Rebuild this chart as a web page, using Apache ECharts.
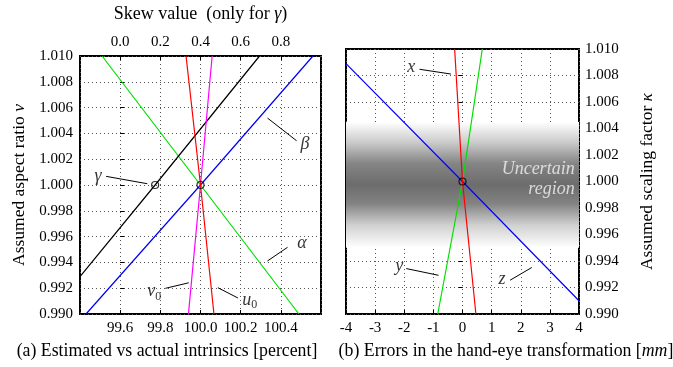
<!DOCTYPE html>
<html>
<head>
<meta charset="utf-8">
<script src="https://cdn.jsdelivr.net/npm/echarts@6/dist/echarts.min.js"></script>
<style>
  html, body { margin: 0; padding: 0; background: #fff; }
  #chart { width: 673px; height: 367px; }
</style>
</head>
<body>
<div id="chart"></div>
<script>
// (a) intrinsics sweep, x = estimated/actual [percent], y = aspect ratio
const alphaPts = [[99.51, 1.010], [100.0, 1.000], [100.49, 0.990]]
const betaPts = [[99.43, 0.990], [100.0, 1.000], [100.56, 1.010]]
const u0Pts = [[99.928, 1.010], [100.0, 1.000], [100.067, 0.990]]
const v0Pts = [[99.94, 0.990], [100.0, 1.000], [100.058, 1.010]]
// gamma is plotted against the top (skew) axis
const gammaPts = [[-0.2, 0.9929], [0.174, 1.000], [0.694, 1.010]]
const centerA = [[100.0, 1.000]]
const centerGamma = [[0.174, 1.000]]

// (b) hand-eye errors [mm], y = scaling factor
const xPts = [[-0.27, 1.010], [0.0, 1.000], [0.46, 0.990]]
const yPts = [[0.68, 1.010], [0.0, 1.000], [-0.85, 0.990]]
const zPts = [[-4, 1.0089], [0.0, 1.000], [4, 0.9910]]
const centerB = [[0.0, 1.000]]
const uncertainBand = [1.0045, 0.995]

// label anchors and leader lines (data coordinates)
const labelsA = [
  { text: '{i|γ}', at: [99.49, 1.00071], lead: [[99.53, 1.00067], [99.735, 1.0001]] },
  { text: '{i|β}', at: [100.52, 1.00312], lead: [[100.3335, 1.00519], [100.4785, 1.00343]] },
  { text: '{i|α}', at: [100.505, 0.99549], lead: [[100.3335, 0.99411], [100.4335, 0.99517]] },
  { text: '{i|v}{s|0}', at: [99.77, 0.99175], lead: [[99.825, 0.99199], [99.9415, 0.99242]] },
  { text: '{i|u}{s|0}', at: [100.245, 0.99110], lead: [[100.0865, 0.99204], [100.1865, 0.99124]] }
]
const labelsB = [
  { text: '{i|x}', at: [-1.761, 1.00864], lead: [[-1.476, 1.00847], [-0.399, 1.00811]] },
  { text: '{i|y}', at: [-2.172, 0.99360], lead: [[-1.932, 0.99343], [-0.824, 0.99292]] },
  { text: '{i|z}', at: [1.36, 0.99262], lead: [[1.634, 0.99255], [2.379, 0.99351]] }
]

const FONT = '"Liberation Serif", "Times New Roman", serif'
const richStyle = {
  i: { fontFamily: FONT, fontStyle: 'italic', fontSize: 18, color: '#000' },
  s: { fontFamily: FONT, fontSize: 12, color: '#000', padding: [10, 0, 0, 0] }
}

function lineSeries (data, color, xi, yi) {
  return {
    type: 'line', data: data, xAxisIndex: xi, yAxisIndex: yi,
    showSymbol: false, silent: true, animation: false,
    lineStyle: { color: color, width: 1.2 }
  }
}
function circleSeries (data, xi, yi) {
  return {
    type: 'scatter', data: data, xAxisIndex: xi, yAxisIndex: yi,
    symbol: 'circle', symbolSize: 7, silent: true, z: 5,
    itemStyle: { color: 'rgba(0,0,0,0)', borderColor: '#000', borderWidth: 1.2 }
  }
}
function labelSeries (labels, xi, yi) {
  let out = []
  labels.forEach(l => {
    out.push(Object.assign(lineSeries(l.lead, '#000', xi, yi), { lineStyle: { color: '#000', width: 1 } }))
    out.push({
      type: 'scatter', xAxisIndex: xi, yAxisIndex: yi, symbolSize: 0, silent: true,
      data: [l.at],
      label: { show: true, position: 'inside', formatter: l.text, rich: richStyle }
    })
  })
  return out
}

const tickFont = { fontFamily: FONT, fontSize: 15, color: '#000' }
const splitDots = { show: true, lineStyle: { color: '#555', type: [1, 3], width: 1 } }
const ticksIn = { show: true, inside: true, length: 4, lineStyle: { color: '#000' } }
function nameStyle (size) {
  return {
    fontFamily: FONT, fontSize: size, color: '#000',
    rich: { i: { fontFamily: FONT, fontSize: size, fontStyle: 'italic', color: '#000' } }
  }
}

let chart = echarts.init(document.getElementById('chart'))
chart.setOption({
  animation: false,
  backgroundColor: '#fff',
  title: [
    {
      text: '(a) Estimated vs actual intrinsics [percent]',
      left: 162, top: 337, textAlign: 'center',
      textStyle: Object.assign(nameStyle(17.8), { fontWeight: 'normal' })
    },
    {
      text: '(b) Errors in the hand-eye transformation [{i|mm}]',
      left: 501, top: 337, textAlign: 'center',
      textStyle: Object.assign(nameStyle(17.8), { fontWeight: 'normal' })
    }
  ],
  grid: [
    { left: 80, top: 49, width: 241, height: 265, show: true, borderColor: '#000', borderWidth: 2, backgroundColor: 'transparent' },
    { left: 346, top: 49, width: 233, height: 265, show: true, borderColor: '#000', borderWidth: 2, backgroundColor: 'transparent' }
  ],
  xAxis: [
    {
      gridIndex: 0, type: 'value', position: 'bottom', min: 99.4, max: 100.6, interval: 0.2,
      axisLine: { show: false }, axisTick: ticksIn, splitLine: splitDots,
      axisLabel: Object.assign({ margin: 7, showMinLabel: false, showMaxLabel: false, formatter: v => v.toFixed(1) }, tickFont)
    },
    {
      gridIndex: 0, type: 'value', position: 'top', min: -0.2, max: 1.0, interval: 0.2,
      axisLine: { show: false }, axisTick: ticksIn, splitLine: { show: false },
      axisLabel: Object.assign({ margin: 6, showMinLabel: false, showMaxLabel: false, formatter: v => v.toFixed(1) }, tickFont),
      name: 'Skew value  (only for {i|γ})', nameLocation: 'middle', nameGap: 33,
      nameTextStyle: nameStyle(18)
    },
    {
      gridIndex: 1, type: 'value', position: 'bottom', min: -4, max: 4, interval: 1,
      axisLine: { show: false }, axisTick: ticksIn, splitLine: splitDots,
      axisLabel: Object.assign({ margin: 7 }, tickFont)
    }
  ],
  yAxis: [
    {
      gridIndex: 0, type: 'value', position: 'left', min: 0.990, max: 1.010, interval: 0.002,
      axisLine: { show: false }, axisTick: ticksIn, splitLine: splitDots,
      axisLabel: Object.assign({ margin: 7, formatter: v => v.toFixed(3) }, tickFont),
      name: 'Assumed aspect ratio {i|ν}', nameLocation: 'middle', nameGap: 52, nameRotate: 90,
      nameTextStyle: nameStyle(17.5)
    },
    {
      gridIndex: 1, type: 'value', position: 'right', min: 0.990, max: 1.010, interval: 0.002,
      axisLine: { show: false }, axisTick: ticksIn, splitLine: splitDots,
      axisLabel: Object.assign({ margin: 6, formatter: v => v.toFixed(3) }, tickFont),
      name: 'Assumed scaling factor {i|κ}', nameLocation: 'middle', nameGap: 59, nameRotate: 90,
      nameTextStyle: nameStyle(17.5)
    }
  ],
  series: [
    // uncertain region band, below the grid lines
    {
      type: 'line', data: [], xAxisIndex: 2, yAxisIndex: 1, z: -1, silent: true,
      markArea: {
        silent: true,
        itemStyle: {
          color: new echarts.graphic.LinearGradient(0, 0, 0, 1, [
            { offset: 0, color: '#ffffff' },
            { offset: 0.16, color: '#cccccc' },
            { offset: 0.33, color: '#858585' },
            { offset: 0.5, color: '#6c6c6c' },
            { offset: 0.65, color: '#838383' },
            { offset: 0.82, color: '#d0d0d0' },
            { offset: 1, color: '#ffffff' }
          ])
        },
        data: [[{ xAxis: -4, yAxis: uncertainBand[0] }, { xAxis: 4, yAxis: uncertainBand[1] }]]
      }
    },
    lineSeries(alphaPts, '#00e000', 0, 0),
    lineSeries(betaPts, '#0000ff', 0, 0),
    lineSeries(gammaPts, '#000000', 1, 0),
    lineSeries(v0Pts, '#ff00ff', 0, 0),
    lineSeries(u0Pts, '#ff0000', 0, 0),
    circleSeries(centerA, 0, 0),
    circleSeries(centerGamma, 1, 0),
    lineSeries(zPts, '#0000ff', 2, 1),
    lineSeries(yPts, '#00e000', 2, 1),
    lineSeries(xPts, '#ff0000', 2, 1),
    circleSeries(centerB, 2, 1),
    {
      type: 'scatter', xAxisIndex: 2, yAxisIndex: 1, symbolSize: 0, silent: true,
      data: [[3.85, 1.0002]],
      label: {
        show: true, position: 'left', distance: 0, align: 'right', lineHeight: 20,
        formatter: 'Uncertain\nregion',
        fontFamily: FONT, fontStyle: 'italic', fontSize: 18, color: '#f2f2f2'
      }
    }
  ].concat(labelSeries(labelsA, 0, 0), labelSeries(labelsB, 2, 1))
})
</script>
</body>
</html>
